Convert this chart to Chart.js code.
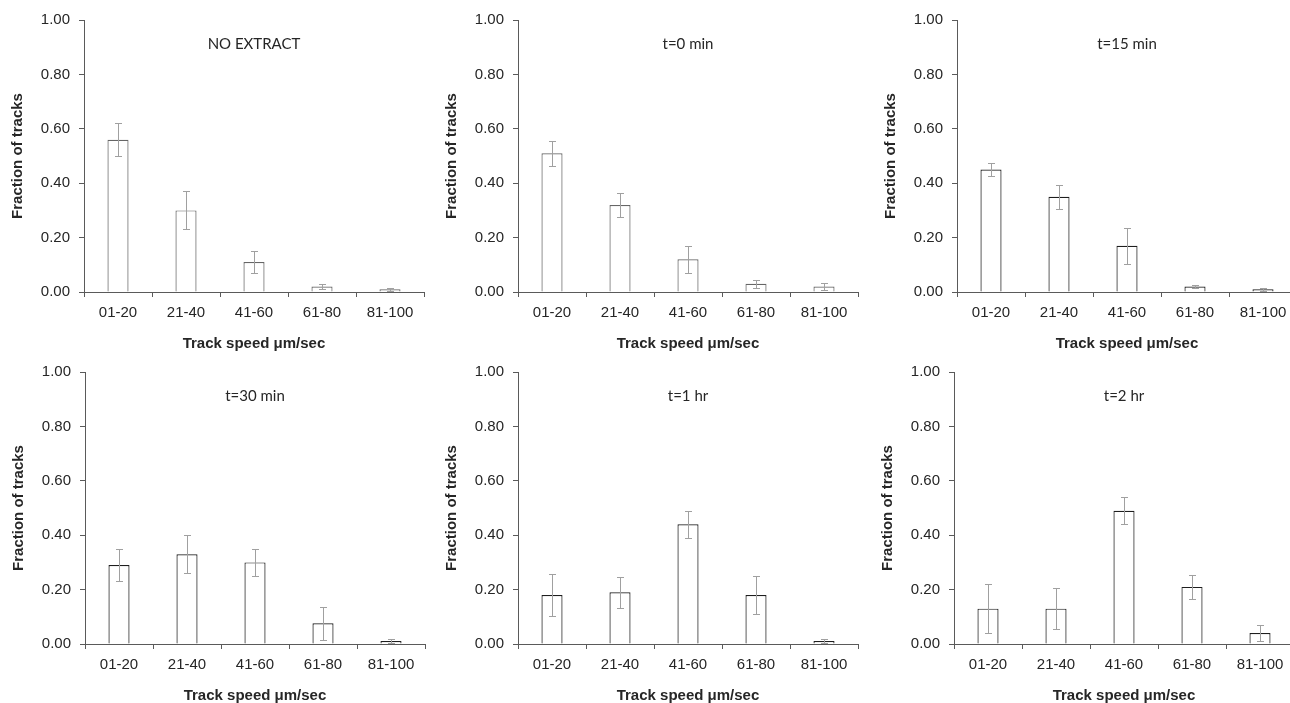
<!DOCTYPE html>
<html>
<head>
<meta charset="utf-8">
<script src="https://cdn.jsdelivr.net/npm/chart.js@4/dist/chart.umd.min.js"></script>
<style>
body { margin: 0; background: #fff; width: 1290px; height: 703px; overflow: hidden; position: relative; }
canvas { position: absolute; }
</style>
</head>
<body>
<canvas id="c0" width="430" height="358" style="left:0px;top:0px"></canvas>
<canvas id="c1" width="430" height="358" style="left:434px;top:0px"></canvas>
<canvas id="c2" width="430" height="358" style="left:873px;top:0px"></canvas>
<canvas id="c3" width="430" height="358" style="left:1px;top:352px"></canvas>
<canvas id="c4" width="430" height="358" style="left:434px;top:352px"></canvas>
<canvas id="c5" width="430" height="358" style="left:870px;top:352px"></canvas>
<script>
// categories and labels
const speedBins = ['01-20', '21-40', '41-60', '61-80', '81-100'];
const panelTitles = ['NO EXTRACT', 't=0 min', 't=15 min', 't=30 min', 't=1 hr', 't=2 hr'];
const yTickValues = [0, 0.2, 0.4, 0.6, 0.8, 1.0];

// fraction of tracks per speed bin, with +/- error
const noExtract = [0.56, 0.30, 0.11, 0.02, 0.01];
const noExtractErr = [0.06, 0.07, 0.04, 0.01, 0.005];
const t0min = [0.51, 0.32, 0.12, 0.03, 0.02];
const t0minErr = [0.045, 0.045, 0.05, 0.015, 0.013];
const t15min = [0.45, 0.35, 0.17, 0.02, 0.01];
const t15minErr = [0.025, 0.045, 0.066, 0.007, 0.005];
const t30min = [0.29, 0.33, 0.30, 0.076, 0.011];
const t30minErr = [0.06, 0.07, 0.05, 0.06, 0.009];
const t1hr = [0.18, 0.19, 0.44, 0.18, 0.011];
const t1hrErr = [0.076, 0.056, 0.049, 0.069, 0.007];
const t2hr = [0.13, 0.13, 0.49, 0.21, 0.04];
const t2hrErr = [0.09, 0.075, 0.05, 0.045, 0.029];

const seriesList = [noExtract, t0min, t15min, t30min, t1hr, t2hr];
const errorList = [noExtractErr, t0minErr, t15minErr, t30minErr, t1hrErr, t2hrErr];
const outlineColors = ['#666666', '#666666', '#1e1e1e', '#1e1e1e', '#1e1e1e', '#1e1e1e'];

const textColor = '#262626';
const axisColor = '#5a5a5a';

// error bars drawn from the y scale
const errorBars = {
    id: 'errorBars',
    afterDatasetsDraw(chart, args, opts) {
        const meta = chart.getDatasetMeta(0);
        const y = chart.scales.y;
        const vals = chart.data.datasets[0].data;
        const ctx = chart.ctx;
        ctx.save();
        ctx.strokeStyle = opts.color;
        ctx.lineWidth = 1;
        meta.data.forEach(function(bar, i) {
            const e = opts.errors[i];
            const x = Math.round(bar.x) + 0.5;
            const top = Math.round(y.getPixelForValue(vals[i] + e)) + 0.5;
            const bot = Math.round(y.getPixelForValue(Math.max(0, vals[i] - e))) + 0.5;
            ctx.beginPath();
            ctx.moveTo(x, top); ctx.lineTo(x, bot);
            ctx.moveTo(x - 3.5, top); ctx.lineTo(x + 3.5, top);
            ctx.moveTo(x - 3.5, bot); ctx.lineTo(x + 3.5, bot);
            ctx.stroke();
        });
        ctx.restore();
    }
};

// panel caption inside the plot area
const panelTitle = {
    id: 'panelTitle',
    afterDraw(chart, args, opts) {
        const a = chart.chartArea;
        const ctx = chart.ctx;
        ctx.save();
        ctx.fillStyle = textColor;
        ctx.font = '15px Lato, "Open Sans", sans-serif';
        ctx.textAlign = 'center';
        ctx.textBaseline = 'middle';
        ctx.fillText(opts.text, (a.left + a.right) / 2, a.top + 24);
        ctx.restore();
    }
};

seriesList.forEach(function(series, idx) {
    new Chart(document.getElementById('c' + idx), {
        type: 'bar',
        data: {
            labels: speedBins,
            datasets: [{
                data: series,
                backgroundColor: '#ffffff',
                borderColor: outlineColors[idx],
                borderWidth: 1.2,
                borderSkipped: 'bottom',
                categoryPercentage: 1,
                barPercentage: 0.31
            }]
        },
        options: {
            responsive: false,
            animation: false,
            events: [],
            layout: {padding: {top: 20, right: 6, left: 0, bottom: 0}},
            plugins: {
                legend: {display: false},
                tooltip: {enabled: false},
                errorBars: {errors: errorList[idx], color: '#a0a0a0'},
                panelTitle: {text: panelTitles[idx]}
            },
            scales: {
                x: {
                    afterFit: function(scale) { scale.height = 66; },
                    grid: {drawOnChartArea: false, tickLength: 5, color: axisColor, offset: true},
                    border: {color: axisColor},
                    ticks: {color: textColor, font: {family: '"Liberation Sans", Arial, sans-serif', size: 15}, padding: 7},
                    title: {
                        display: true,
                        text: 'Track speed \u03bcm/sec',
                        color: textColor,
                        font: {family: '"Liberation Sans", Arial, sans-serif', size: 15, weight: 'bold'},
                        padding: {top: 0, bottom: 5}
                    }
                },
                y: {
                    min: 0,
                    max: 1,
                    afterFit: function(scale) { scale.width = 84; },
                    afterBuildTicks: function(scale) {
                        scale.ticks = yTickValues.map(function(v) { return {value: v}; });
                    },
                    grid: {drawOnChartArea: false, tickLength: 5, color: axisColor},
                    border: {color: axisColor},
                    ticks: {
                        color: textColor,
                        font: {family: '"Liberation Sans", Arial, sans-serif', size: 15},
                        padding: 9,
                        callback: function(v) { return Number(v).toFixed(2); }
                    },
                    title: {
                        display: true,
                        text: 'Fraction of tracks',
                        color: textColor,
                        font: {family: '"Liberation Sans", Arial, sans-serif', size: 15, weight: 'bold'},
                        padding: {top: 9, bottom: 0}
                    }
                }
            }
        },
        plugins: [errorBars, panelTitle]
    });
});
</script>
</body>
</html>
